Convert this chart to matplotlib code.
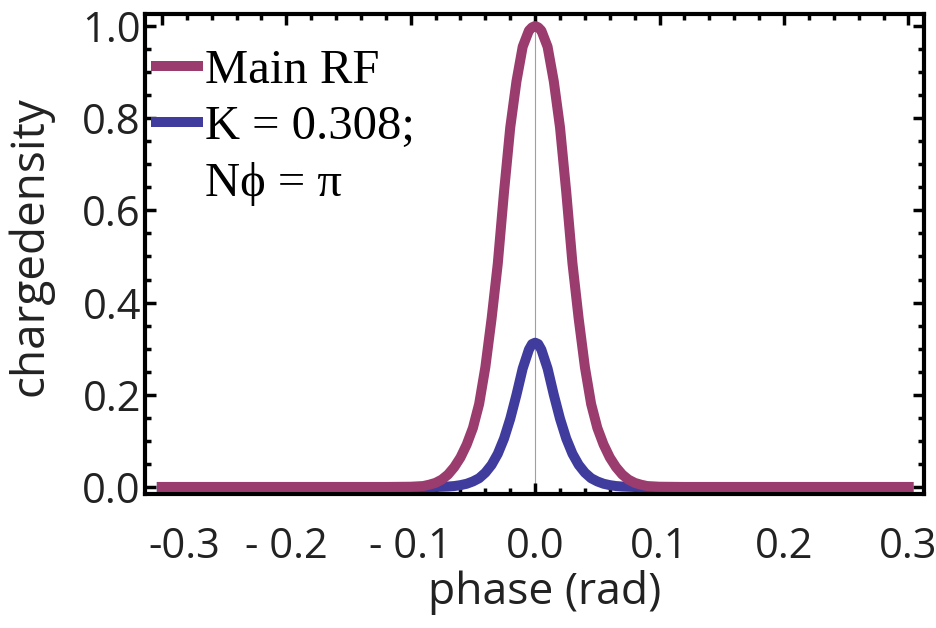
import matplotlib
matplotlib.use("Agg")
import matplotlib.pyplot as plt
from matplotlib.lines import Line2D
from matplotlib.ticker import MultipleLocator, FixedLocator, FixedFormatter
from matplotlib.transforms import ScaledTranslation

# ---- data ----
phase = [-0.30, -0.20, -0.12, -0.10, -0.09, -0.085, -0.08, -0.075, -0.07, -0.065,
         -0.06, -0.055, -0.05, -0.045, -0.04, -0.035, -0.03, -0.025, -0.02, -0.015,
         -0.01, -0.005, -0.0025, 0.0, 0.0025, 0.005, 0.01, 0.015, 0.02, 0.025, 0.03, 0.035,
         0.04, 0.045, 0.05, 0.055, 0.06, 0.065, 0.07, 0.075, 0.08, 0.085,
         0.09, 0.10, 0.12, 0.20, 0.30]

main_rf = [0.0, 0.0, 0.0, 0.0005, 0.002, 0.005, 0.009, 0.016, 0.027, 0.043,
           0.064, 0.092, 0.128, 0.18, 0.26, 0.365, 0.485, 0.64, 0.78, 0.88,
           0.955, 0.99, 0.997, 1.0, 0.997, 0.99, 0.955, 0.88, 0.78, 0.64, 0.485, 0.365,
           0.26, 0.18, 0.128, 0.092, 0.064, 0.043, 0.027, 0.016, 0.009, 0.005,
           0.002, 0.0005, 0.0, 0.0, 0.0]

k_curve = [0.0, 0.0, 0.0, 0.0, 0.0, 0.0, 0.0, 0.0005, 0.001, 0.002,
           0.004, 0.007, 0.012, 0.019, 0.031, 0.048, 0.072, 0.105, 0.148, 0.2,
           0.257, 0.298, 0.31, 0.313, 0.31, 0.298, 0.257, 0.2, 0.148, 0.105, 0.072, 0.048,
           0.031, 0.019, 0.012, 0.007, 0.004, 0.002, 0.001, 0.0005, 0.0, 0.0,
           0.0, 0.0, 0.0, 0.0, 0.0]

labels = ["Main RF", "K = 0.308;", "N\u03d5 = \u03c0"]
xtick_vals = [-0.3, -0.2, -0.1, 0.0, 0.1, 0.2, 0.3]
xtick_text = ["-0.3", "- 0.2", "- 0.1", "0.0", "0.1", "0.2", "0.3"]
ytick_vals = [0.0, 0.2, 0.4, 0.6, 0.8, 1.0]

c_main = "#9a3c6e"
c_k = "#3f3c9e"

fig = plt.figure(figsize=(9.37, 6.28), dpi=100)
ax = fig.add_axes([0.1548, 0.2134, 0.9861 - 0.1548, 0.9777 - 0.2134])

ax.axvline(0.0, color="#a0a0a0", lw=0.8, zorder=1)
ax.plot(phase, k_curve, color=c_k, lw=7.2, solid_capstyle="projecting",
        solid_joinstyle="round", zorder=2)
ax.plot(phase, main_rf, color=c_main, lw=7.2, solid_capstyle="projecting",
        solid_joinstyle="round", zorder=3)

ax.set_xlim(-0.3135, 0.3125)
ax.set_ylim(-0.0152, 1.026)

ax.xaxis.set_major_locator(FixedLocator(xtick_vals))
ax.xaxis.set_major_formatter(FixedFormatter(xtick_text))
ax.xaxis.set_minor_locator(MultipleLocator(0.02))
ax.yaxis.set_major_locator(FixedLocator(ytick_vals))
ax.yaxis.set_minor_locator(MultipleLocator(0.05))
ax.set_yticklabels([f"{v:.1f}" for v in ytick_vals])

tickfont = "Open Sans"
ax.tick_params(which="both", direction="in", top=True, right=True, color="black")
ax.tick_params(which="major", length=8, width=2.5)
ax.tick_params(which="minor", length=4.5, width=2.5)
ax.tick_params(axis="x", which="major", pad=23, labelsize=30)
ax.tick_params(axis="y", which="major", pad=3, labelsize=30)
for lab in ax.get_xticklabels() + ax.get_yticklabels():
    lab.set_fontfamily(tickfont)
    lab.set_color("#222222")

# the leftmost label sits shifted right in the reference
first = ax.get_xticklabels()[0]
first.set_transform(first.get_transform() + ScaledTranslation(0.22, 0, fig.dpi_scale_trans))

for s in ax.spines.values():
    s.set_linewidth(3)
    s.set_color("black")

ax.set_xlabel("phase (rad)", fontsize=32, family=tickfont, color="#222222", va="top")
ax.xaxis.set_label_coords(0.513, -0.158)
ax.set_ylabel("chargedensity", fontsize=33, family=tickfont, color="#222222")
ax.yaxis.set_label_coords(-0.118, 0.517)

handles = [Line2D([], [], color=c_main, lw=7.2),
           Line2D([], [], color=c_k, lw=7.2),
           Line2D([], [], color="none", lw=0)]
leg = ax.legend(handles, labels, loc="upper left", frameon=False,
                prop={"family": ["Liberation Serif", "DejaVu Serif"], "size": 35},
                handlelength=0.86, handletextpad=0.15, labelspacing=0.26,
                borderpad=0.0, borderaxespad=0.0, bbox_to_anchor=(0.014, 0.928))

fig.savefig("out.png", dpi=100)
